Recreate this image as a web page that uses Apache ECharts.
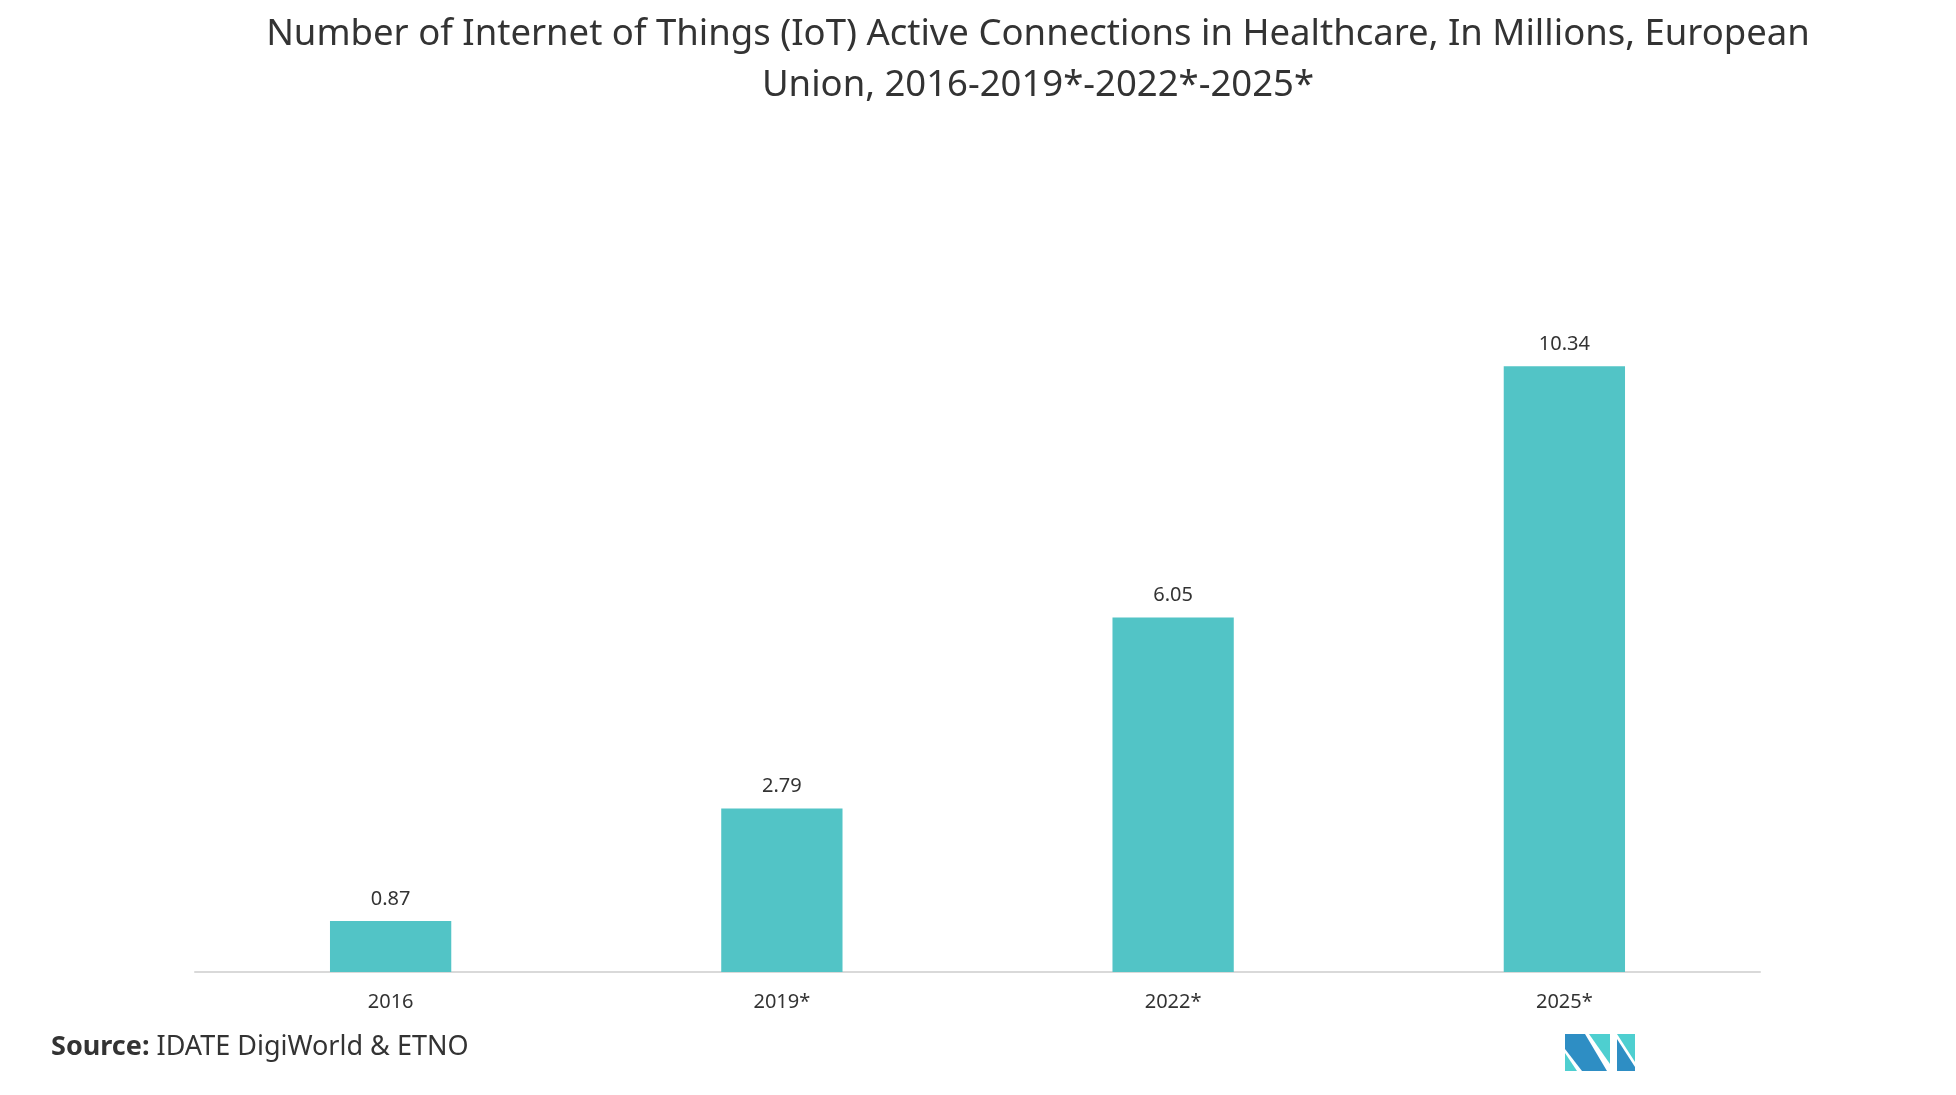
<!DOCTYPE html>
<html>
<head>
<meta charset="utf-8">
<script src="https://cdn.jsdelivr.net/npm/echarts@6/dist/echarts.min.js"></script>
<style>
html,body{margin:0;padding:0;background:#fff;}
#chart{width:1956px;height:1095px;}
</style>
</head>
<body>
<div id="chart"></div>
<script>
const titleText = 'Number of Internet of Things (IoT) Active Connections in Healthcare, In Millions, European\nUnion, 2016-2019*-2022*-2025*';
const categories = ['2016', '2019*', '2022*', '2025*'];
const values = [0.87, 2.79, 6.05, 10.34];
const sourceLabel = 'Source:';
const sourceText = ' IDATE DigiWorld & ETNO';

const chart = echarts.init(document.getElementById('chart'));
chart.setOption({
  backgroundColor: '#ffffff',
  animation: false,
  title: {
    text: titleText,
    left: 1033,
    textAlign: 'center',
    top: 4,
    textStyle: {
      fontFamily: 'Noto Sans',
      fontWeight: 'normal',
      fontSize: 36.5,
      lineHeight: 51,
      color: '#333333'
    }
  },
  grid: { left: 195, right: 196, top: 269, bottom: 123 },
  xAxis: {
    type: 'category',
    data: categories,
    axisLine: { show: true, lineStyle: { color: '#d9d9d9', width: 2 } },
    axisTick: { show: false },
    axisLabel: { color: '#333333', fontSize: 20, fontFamily: 'Noto Sans', margin: 20 }
  },
  yAxis: {
    type: 'value',
    min: 0,
    max: 12,
    show: false,
    splitLine: { show: false }
  },
  series: [{
    type: 'bar',
    data: values,
    barWidth: '31%',
    itemStyle: { color: '#52c4c6' },
    label: {
      show: true,
      position: 'top',
      distance: 12,
      color: '#333333',
      fontSize: 20,
      fontFamily: 'Noto Sans'
    }
  }],
  graphic: [
    {
      type: 'text',
      left: 51,
      top: 1034,
      style: {
        text: '{b|' + sourceLabel + '}{n|' + sourceText + '}',
        rich: {
          b: { fontFamily: 'Noto Sans', fontWeight: 'bold', fontSize: 27, fill: '#333333' },
          n: { fontFamily: 'Noto Sans', fontSize: 27, fill: '#333333' }
        }
      }
    },
    { type: 'polygon', shape: { points: [[1565,1034],[1585,1034],[1607,1071],[1582,1071],[1565,1049]] }, style: { fill: '#2e8ec4' } },
    { type: 'polygon', shape: { points: [[1565,1053],[1565,1071],[1577,1071]] }, style: { fill: '#4ecfd0' } },
    { type: 'polygon', shape: { points: [[1589,1034],[1610,1034],[1610,1064]] }, style: { fill: '#4ecfd0' } },
    { type: 'polygon', shape: { points: [[1617,1034],[1635,1034],[1635,1062]] }, style: { fill: '#4ecfd0' } },
    { type: 'polygon', shape: { points: [[1617,1039],[1635,1067],[1635,1071],[1617,1071]] }, style: { fill: '#2e8ec4' } }
  ]
});
</script>
</body>
</html>
